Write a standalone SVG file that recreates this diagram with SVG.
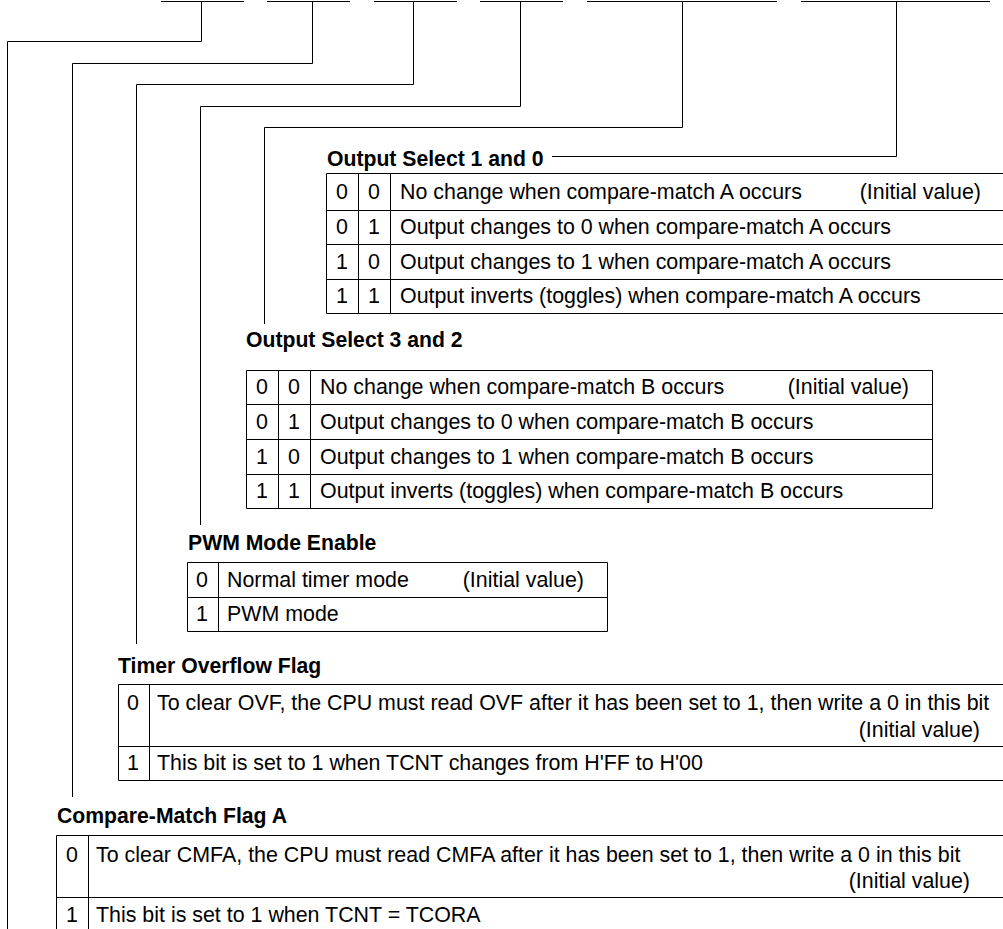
<svg xmlns="http://www.w3.org/2000/svg" width="1003" height="929" viewBox="0 0 1003 929">
<style>
.ln{fill:none;stroke:#000;stroke-width:1}
.tb{fill:none;stroke:#000;stroke-width:1}
.t{font-family:"Liberation Sans",Arial,sans-serif;font-size:21.4px;fill:#000}
.h{font-family:"Liberation Sans",Arial,sans-serif;font-size:21.2px;font-weight:bold;fill:#000}
.c{text-anchor:middle}
.e{text-anchor:end}
</style>
<rect width="1003" height="929" fill="#fff"/>
<g id="connectors">
<path class="ln" d="M161 1.5H244M201.5 1.5V41.5H7.5V929"/>
<path class="ln" d="M267 1.5H350M312.5 1.5V63.5H72.5V797"/>
<path class="ln" d="M374 1.5H457M413.5 1.5V84.5H136.5V644"/>
<path class="ln" d="M480 1.5H563M520.5 1.5V106.5H200.5V525"/>
<path class="ln" d="M587 1.5H777M682.5 1.5V127.5H264.5V324"/>
<path class="ln" d="M801 1.5H990M896.5 1.5V156.5H552"/>
</g>
<g id="os10">
<text class="h" x="327" y="166">Output Select 1 and 0</text>
<path class="tb" d="M1010 173.5H326.5V313.5H1010M326.5 210.5H1010M326.5 244.5H1010M326.5 279.5H1010M358.5 173.5V313.5M390.5 173.5V313.5"/>
<text class="t c" x="342" y="199">0</text><text class="t c" x="374" y="199">0</text>
<text class="t" x="400" y="199">No change when compare-match A occurs</text>
<text class="t e" x="981" y="199">(Initial value)</text>
<text class="t c" x="342" y="234">0</text><text class="t c" x="374" y="234">1</text>
<text class="t" x="400" y="234">Output changes to 0 when compare-match A occurs</text>
<text class="t c" x="342" y="269">1</text><text class="t c" x="374" y="269">0</text>
<text class="t" x="400" y="269">Output changes to 1 when compare-match A occurs</text>
<text class="t c" x="342" y="303">1</text><text class="t c" x="374" y="303">1</text>
<text class="t" x="400" y="303">Output inverts (toggles) when compare-match A occurs</text>
</g>
<g id="os32">
<text class="h" x="246" y="347">Output Select 3 and 2</text>
<path class="tb" d="M246.5 370.5H932.5V508.5H246.5ZM246.5 404.5H932.5M246.5 439.5H932.5M246.5 474.5H932.5M278.5 370.5V508.5M310.5 370.5V508.5"/>
<text class="t c" x="262" y="394">0</text><text class="t c" x="294" y="394">0</text>
<text class="t" x="320" y="394">No change when compare-match B occurs</text>
<text class="t e" x="909" y="394">(Initial value)</text>
<text class="t c" x="262" y="429">0</text><text class="t c" x="294" y="429">1</text>
<text class="t" x="320" y="429">Output changes to 0 when compare-match B occurs</text>
<text class="t c" x="262" y="464">1</text><text class="t c" x="294" y="464">0</text>
<text class="t" x="320" y="464">Output changes to 1 when compare-match B occurs</text>
<text class="t c" x="262" y="498">1</text><text class="t c" x="294" y="498">1</text>
<text class="t" x="320" y="498">Output inverts (toggles) when compare-match B occurs</text>
</g>
<g id="pwm">
<text class="h" x="188" y="550">PWM Mode Enable</text>
<path class="tb" d="M187.5 562.5H607.5V631.5H187.5ZM187.5 597.5H607.5M218.5 562.5V631.5"/>
<text class="t c" x="202" y="587">0</text>
<text class="t" x="227" y="587">Normal timer mode</text>
<text class="t e" x="584" y="587">(Initial value)</text>
<text class="t c" x="202" y="621">1</text>
<text class="t" x="227" y="621">PWM mode</text>
</g>
<g id="ovf">
<text class="h" x="118" y="673">Timer Overflow Flag</text>
<path class="tb" d="M1010 684.5H118.5V780.5H1010M118.5 746.5H1010M149.5 684.5V780.5"/>
<text class="t c" x="133" y="710">0</text>
<text class="t" x="157" y="710">To clear OVF, the CPU must read OVF after it has been set to 1, then write a 0 in this bit</text>
<text class="t e" x="980" y="737">(Initial value)</text>
<text class="t c" x="133" y="770">1</text>
<text class="t" x="157" y="770">This bit is set to 1 when TCNT changes from H'FF to H'00</text>
</g>
<g id="cmfa">
<text class="h" x="57" y="823">Compare-Match Flag A</text>
<path class="tb" d="M1010 835.5H56.5V940M56.5 897.5H1010M88.5 835.5V940"/>
<text class="t c" x="72" y="862">0</text>
<text class="t" x="96" y="862">To clear CMFA, the CPU must read CMFA after it has been set to 1, then write a 0 in this bit</text>
<text class="t e" x="970" y="888">(Initial value)</text>
<text class="t c" x="72" y="922">1</text>
<text class="t" x="96" y="922">This bit is set to 1 when TCNT = TCORA</text>
</g>
</svg>
